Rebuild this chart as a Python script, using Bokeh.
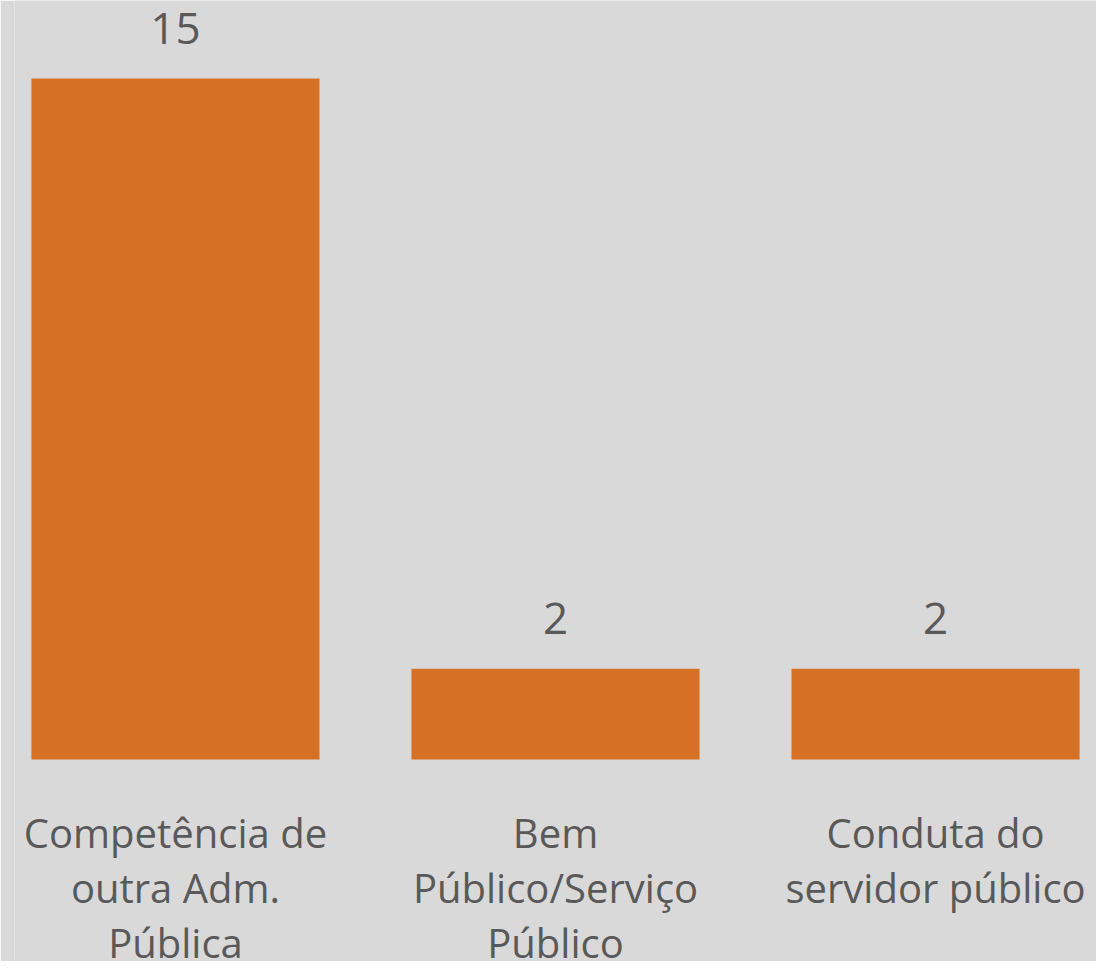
from bokeh.plotting import figure
from bokeh.models import ColumnDataSource, FactorRange, Range1d
from bokeh.core.properties import value
from bokeh.embed import file_html
from bokeh.resources import INLINE

categories = ["Competência de\noutra Adm.\nPública", "Bem\nPúblico/Serviço\nPúblico", "Conduta do\nservidor público"]
counts = [15, 2, 2]

BG = "#d9d9d9"
BAR = "#d57024"
TXT = "#595959"
FONT = "Open Sans"

keys = ["c%d" % i for i in range(len(categories))]

x_range = FactorRange(factors=keys, range_padding=-0.0765, range_padding_units="absolute")
p = figure(width=1096, height=961, x_range=x_range, y_range=Range1d(-4.449, 16.718),
           output_backend="svg", toolbar_location=None,
           min_border_left=14, min_border_right=0, min_border_top=0, min_border_bottom=0)
p.background_fill_color = BG
p.border_fill_color = BG
p.outline_line_color = None
p.grid.visible = False
p.axis.visible = False

src = ColumnDataSource(dict(x=keys, top=counts, label=[str(c) for c in counts]))
p.vbar(x="x", top="top", bottom=0, width=0.758, source=src, fill_color=BAR, line_color=None)
p.text(x="x", y="top", text="label", source=src, text_align="center", text_baseline="alphabetic",
       y_offset=-50, text_font=value(FONT), text_font_size="44px", text_color=TXT)

lx, ly, lt, lo = [], [], [], []
for k, cat in zip(keys, categories):
    for i, line in enumerate(cat.split("\n")):
        lx.append(k)
        ly.append(0)
        lt.append(line)
        lo.append(73 + 55 * i)
lsrc = ColumnDataSource(dict(x=lx, y=ly, text=lt, yo=lo))
p.text(x="x", y="y", text="text", y_offset="yo", source=lsrc, text_align="center",
       text_baseline="alphabetic", text_font=value(FONT), text_font_size="40px", text_color=TXT)

open("out.html", "w").write(file_html(p, INLINE))
